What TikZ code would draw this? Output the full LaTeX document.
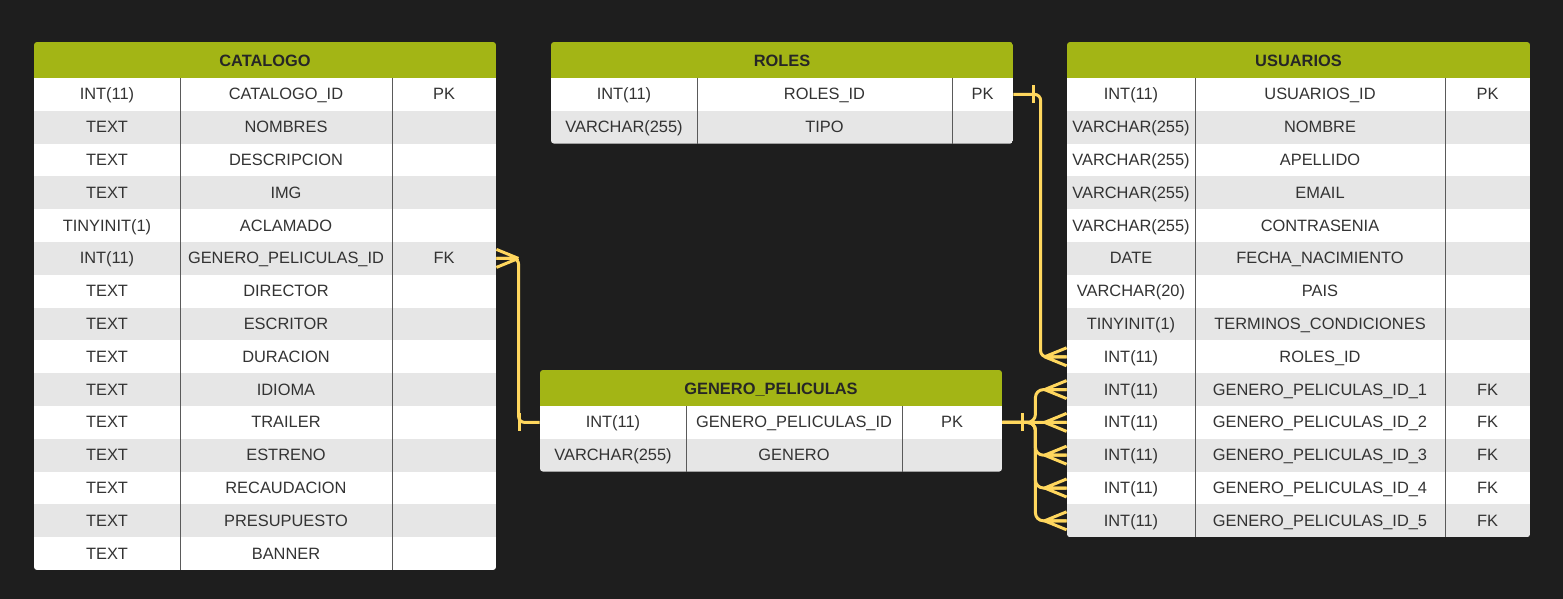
\documentclass[tikz,border=0pt]{standalone}
\usepackage{fontspec}
\setmainfont{Liberation Sans}
\usetikzlibrary{calc}

\definecolor{bg}{HTML}{1E1E1E}
\definecolor{headgreen}{HTML}{A3B515}
\definecolor{rowgray}{HTML}{E6E6E6}
\definecolor{linkyellow}{HTML}{FFD75E}
\definecolor{celltext}{HTML}{333333}
\definecolor{divider}{HTML}{5A5A5A}

\tikzset{
  cell/.style={font=\fontsize{8.2}{9.5}\selectfont, text=celltext, inner sep=0pt, text height=6.4pt, text depth=1pt},
  title/.style={font=\fontsize{8.2}{9.5}\selectfont\bfseries, text=black!85, inner sep=0pt, text height=6.4pt, text depth=1pt},
  rowbox/.style={inner sep=0pt, minimum height=16.4pt},
  colline/.style={draw=divider, line width=0.5pt},
  rel/.style={draw=linkyellow, line width=1.5pt},
  manymark/.pic={\draw[rel] (0,-9) -- (-22,0) (0,0) -- (-22,0) (0,9) -- (-22,0);},
  onemark/.pic={\draw[rel] (0,-9) -- (0,9);},
}

\begin{document}
\begin{tikzpicture}[x=0.5pt, y=-0.5pt]
  \fill[bg] (0,0) rectangle (1563,599);

  % CATALOGO
  \begin{scope}
    \clip[rounded corners=1.5pt] (34,42) rectangle (496,570);
    \fill[headgreen] (34,42) rectangle (496,78);
    \foreach \ty/\nm/\ky [count=\i] in {INT(11)/CATALOGO\_ID/PK, TEXT/NOMBRES/{}, TEXT/DESCRIPCION/{}, TEXT/IMG/{}, TINYINIT(1)/ACLAMADO/{}, INT(11)/GENERO\_PELICULAS\_ID/FK, TEXT/DIRECTOR/{}, TEXT/ESCRITOR/{}, TEXT/DURACION/{}, TEXT/IDIOMA/{}, TEXT/TRAILER/{}, TEXT/ESTRENO/{}, TEXT/RECAUDACION/{}, TEXT/PRESUPUESTO/{}, TEXT/BANNER/{}} {
      \pgfmathsetmacro\yc{78+32.8*(\i-0.5)}
      \ifodd\i \def\rowfill{white}\else \def\rowfill{rowgray}\fi
      \node[rowbox, fill=\rowfill, minimum width=231pt] (cat-\i) at (265,\yc) {};
      \node[cell] (cat-\i-type) at (107,\yc) {\ty};
      \node[cell] (cat-\i-name) at (286,\yc) {\nm};
      \node[cell] (cat-\i-key) at (444,\yc) {\ky};
    }
  \end{scope}
  \node[title] (cat) at (265,61) {CATALOGO};
  \draw[colline] (180,78) -- (180,570) (392,78) -- (392,570);

  % ROLES
  \begin{scope}
    \clip[rounded corners=1.5pt] (551,42) rectangle (1013,143.6);
    \fill[headgreen] (551,42) rectangle (1013,78);
    \foreach \ty/\nm/\ky [count=\i] in {INT(11)/ROLES\_ID/PK, VARCHAR(255)/TIPO/{}} {
      \pgfmathsetmacro\yc{78+32.8*(\i-0.5)}
      \ifodd\i \def\rowfill{white}\else \def\rowfill{rowgray}\fi
      \node[rowbox, fill=\rowfill, minimum width=231pt] (rol-\i) at (782,\yc) {};
      \node[cell] (rol-\i-type) at (624,\yc) {\ty};
      \node[cell] (rol-\i-name) at (824.5,\yc) {\nm};
      \node[cell] (rol-\i-key) at (982.5,\yc) {\ky};
    }
  \end{scope}
  \node[title] (rol) at (782,61) {ROLES};
  \draw[colline] (697,78) -- (697,143.6) (952,78) -- (952,143.6);

  % USUARIOS
  \begin{scope}
    \clip[rounded corners=1.5pt] (1067,42) rectangle (1530,537.2);
    \fill[headgreen] (1067,42) rectangle (1530,78);
    \foreach \ty/\nm/\ky [count=\i] in {INT(11)/USUARIOS\_ID/PK, VARCHAR(255)/NOMBRE/{}, VARCHAR(255)/APELLIDO/{}, VARCHAR(255)/EMAIL/{}, VARCHAR(255)/CONTRASENIA/{}, DATE/FECHA\_NACIMIENTO/{}, VARCHAR(20)/PAIS/{}, TINYINIT(1)/TERMINOS\_CONDICIONES/{}, INT(11)/ROLES\_ID/{}, INT(11)/GENERO\_PELICULAS\_ID\_1/FK, INT(11)/GENERO\_PELICULAS\_ID\_2/FK, INT(11)/GENERO\_PELICULAS\_ID\_3/FK, INT(11)/GENERO\_PELICULAS\_ID\_4/FK, INT(11)/GENERO\_PELICULAS\_ID\_5/FK} {
      \pgfmathsetmacro\yc{78+32.8*(\i-0.5)}
      \ifodd\i \def\rowfill{white}\else \def\rowfill{rowgray}\fi
      \node[rowbox, fill=\rowfill, minimum width=231.5pt] (usr-\i) at (1298.5,\yc) {};
      \node[cell] (usr-\i-type) at (1131,\yc) {\ty};
      \node[cell] (usr-\i-name) at (1320,\yc) {\nm};
      \node[cell] (usr-\i-key) at (1487.5,\yc) {\ky};
    }
  \end{scope}
  \node[title] (usr) at (1298.5,61) {USUARIOS};
  \draw[colline] (1195,78) -- (1195,537.2) (1445,78) -- (1445,537.2);

  % GENERO_PELICULAS
  \begin{scope}
    \clip[rounded corners=1.5pt] (540,370) rectangle (1002,471.6);
    \fill[headgreen] (540,370) rectangle (1002,406);
    \foreach \ty/\nm/\ky [count=\i] in {INT(11)/GENERO\_PELICULAS\_ID/PK, VARCHAR(255)/GENERO/{}} {
      \pgfmathsetmacro\yc{406+32.8*(\i-0.5)}
      \ifodd\i \def\rowfill{white}\else \def\rowfill{rowgray}\fi
      \node[rowbox, fill=\rowfill, minimum width=231pt] (gen-\i) at (771,\yc) {};
      \node[cell] (gen-\i-type) at (613,\yc) {\ty};
      \node[cell] (gen-\i-name) at (794,\yc) {\nm};
      \node[cell] (gen-\i-key) at (952,\yc) {\ky};
    }
  \end{scope}
  \node[title] (gen) at (771,389) {GENERO\_PELICULAS};
  \draw[colline] (686,406) -- (686,471.6) (902,406) -- (902,471.6);

  % Edges
  \draw[rel, rounded corners=3pt] (rol-1.east) -| ($(usr-9.west)+(-26,0)$) -- (usr-9.west);
  \pic at ($(rol-1.east)+(20,0)$) {onemark};
  \pic at (usr-9.west) {manymark};

  \draw[rel, rounded corners=3pt] (cat-6.east) -| ($(gen-1.west)+(-21,0)$) -- (gen-1.west);
  \pic[xscale=-1] at (cat-6.east) {manymark};
  \pic at ($(gen-1.west)+(-20,0)$) {onemark};

  \coordinate (fork) at ($(gen-1.east)+(33,0)$);
  \draw[rel] (gen-1.east) -- (usr-11.west);
  \foreach \k in {10,12,13,14}
    \draw[rel, rounded corners=4pt] (gen-1.east) -- (fork) |- (usr-\k.west);
  \foreach \k in {10,...,14}
    \pic at (usr-\k.west) {manymark};
  \pic at ($(gen-1.east)+(20,0)$) {onemark};
\end{tikzpicture}
\end{document}
